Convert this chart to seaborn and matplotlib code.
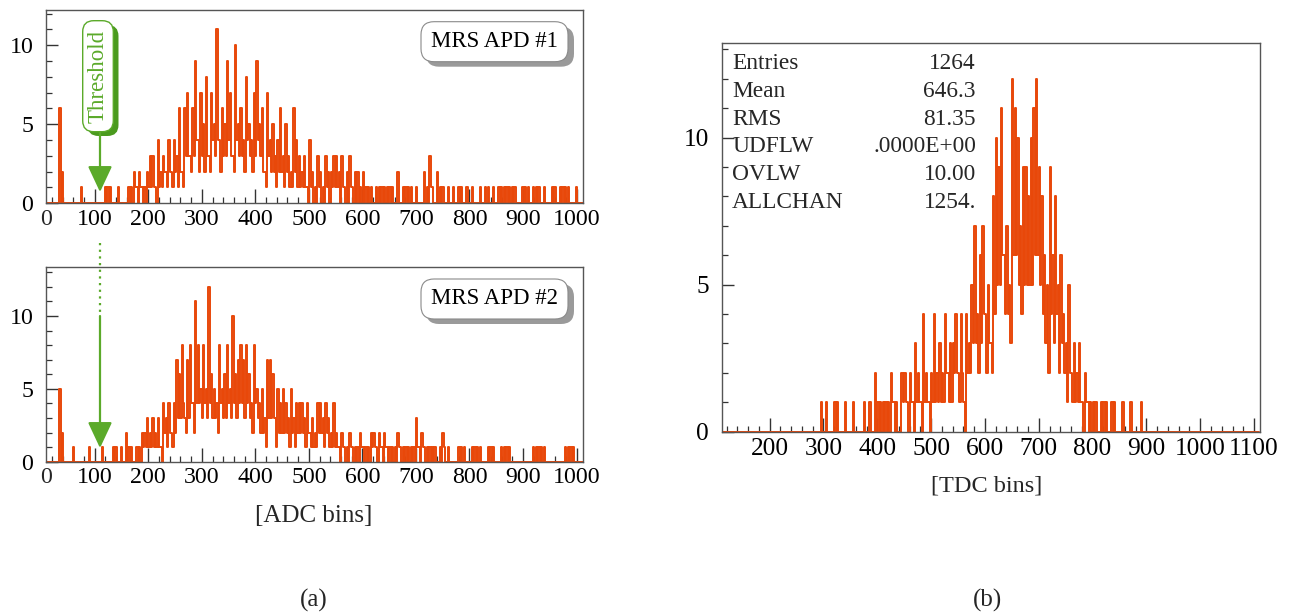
import numpy as np
import pandas as pd
import matplotlib
matplotlib.use("Agg")
import matplotlib.pyplot as plt
import seaborn as sns
from matplotlib.patches import FancyBboxPatch, FancyArrowPatch
from matplotlib.lines import Line2D
from matplotlib.ticker import FixedLocator, MultipleLocator

# ------------------------------------------------------------------ data
# Each coarse bin holds the peak count and the trough count read from the
# densely fluctuating 1-channel histograms (drawn as two half-bins).
adc_bin_start = 9.0
adc_bin_width = 4.97
apd1_peak = [
    0, 0, 0, 0, 0, 6, 2, 0, 0, 0, 0, 0, 0, 1, 0, 0, 0, 0, 0, 0,
    0, 0, 1, 1, 1, 0, 0, 1, 0, 0, 0, 1, 1, 2, 1, 2, 1, 1, 2, 3,
    3, 1, 4, 2, 3, 2, 4, 2, 4, 3, 6, 2, 6, 7, 3, 6, 9, 4, 7, 5,
    8, 3, 7, 5, 11, 4, 6, 5, 9, 7, 3, 10, 5, 6, 4, 8, 5, 4, 7, 9,
    5, 6, 2, 7, 4, 5, 3, 4, 6, 3, 5, 3, 2, 6, 4, 3, 2, 3, 1, 4,
    2, 1, 3, 2, 1, 3, 2, 2, 3, 3, 2, 3, 1, 2, 3, 1, 2, 2, 1, 2,
    1, 1, 1, 0, 1, 1, 1, 1, 1, 1, 1, 0, 2, 0, 1, 1, 1, 1, 0, 1,
    0, 0, 2, 1, 3, 1, 0, 2, 1, 1, 0, 1, 0, 1, 0, 1, 1, 0, 1, 0,
    1, 0, 0, 1, 0, 1, 1, 0, 1, 0, 1, 1, 1, 1, 1, 1, 1, 0, 0, 1,
    1, 1, 0, 1, 1, 1, 0, 1, 0, 0, 1, 1, 0, 1, 1, 1, 1, 0, 0, 1,
    0, 0,
]
apd1_trough = [
    0, 0, 0, 0, 0, 0, 0, 0, 0, 0, 0, 0, 0, 0, 0, 0, 0, 0, 0, 0,
    0, 0, 0, 0, 0, 0, 0, 0, 0, 0, 0, 0, 0, 1, 0, 1, 0, 0, 1, 1,
    1, 0, 1, 1, 2, 1, 2, 1, 2, 1, 2, 1, 3, 3, 2, 3, 4, 2, 3, 2,
    3, 2, 4, 3, 4, 2, 3, 3, 4, 3, 2, 4, 3, 3, 2, 4, 3, 2, 3, 4,
    3, 2, 1, 3, 2, 2, 1, 2, 2, 1, 2, 1, 1, 2, 1, 1, 1, 1, 0, 1,
    0, 0, 1, 0, 0, 1, 0, 1, 1, 1, 0, 1, 0, 0, 1, 0, 0, 0, 0, 0,
    0, 0, 0, 0, 0, 0, 0, 0, 0, 0, 0, 0, 0, 0, 0, 0, 0, 0, 0, 0,
    0, 0, 0, 0, 1, 0, 0, 0, 0, 0, 0, 0, 0, 0, 0, 0, 0, 0, 0, 0,
    0, 0, 0, 0, 0, 0, 0, 0, 0, 0, 0, 0, 0, 0, 0, 0, 0, 0, 0, 0,
    0, 0, 0, 0, 0, 0, 0, 0, 0, 0, 0, 0, 0, 0, 0, 0, 0, 0, 0, 0,
    0, 0,
]
apd2_peak = [
    0, 0, 0, 0, 0, 5, 2, 0, 0, 0, 1, 0, 0, 0, 0, 0, 1, 0, 0, 0,
    0, 1, 0, 0, 0, 1, 1, 0, 1, 0, 2, 1, 1, 0, 1, 1, 2, 2, 3, 2,
    3, 2, 3, 1, 4, 3, 4, 2, 4, 7, 6, 8, 3, 7, 8, 4, 11, 8, 5, 8,
    5, 12, 6, 5, 4, 8, 5, 6, 8, 5, 10, 6, 7, 8, 7, 8, 6, 4, 8, 5,
    4, 5, 3, 7, 7, 6, 3, 5, 4, 5, 4, 3, 5, 3, 4, 4, 4, 3, 4, 2,
    3, 2, 4, 4, 3, 4, 3, 2, 4, 2, 1, 2, 1, 1, 2, 1, 1, 1, 2, 1,
    1, 1, 2, 2, 1, 2, 1, 2, 1, 1, 1, 1, 2, 1, 1, 1, 1, 1, 1, 3,
    1, 2, 1, 1, 1, 1, 1, 0, 1, 2, 0, 1, 0, 0, 0, 1, 1, 1, 0, 0,
    1, 1, 1, 1, 0, 0, 1, 1, 1, 0, 0, 1, 1, 1, 1, 0, 0, 0, 0, 0,
    0, 0, 0, 1, 1, 1, 1, 1, 0, 0, 0, 0, 0, 0, 0, 1, 1, 1, 1, 0,
    0, 0,
]
apd2_trough = [
    0, 0, 0, 0, 0, 0, 0, 0, 0, 0, 0, 0, 0, 0, 0, 0, 0, 0, 0, 0,
    0, 0, 0, 0, 0, 0, 0, 0, 0, 0, 0, 0, 0, 0, 0, 0, 1, 1, 1, 1,
    1, 1, 1, 0, 2, 1, 2, 1, 2, 3, 3, 4, 2, 3, 4, 2, 4, 4, 3, 4,
    3, 4, 3, 3, 2, 4, 3, 3, 4, 3, 4, 3, 4, 4, 3, 4, 3, 2, 4, 3,
    2, 2, 1, 3, 3, 3, 1, 2, 2, 2, 2, 1, 2, 1, 2, 2, 2, 1, 2, 1,
    1, 1, 2, 2, 1, 2, 1, 1, 1, 1, 0, 1, 0, 0, 1, 0, 0, 0, 1, 0,
    0, 0, 1, 1, 0, 1, 0, 1, 0, 0, 0, 0, 1, 0, 0, 0, 0, 0, 0, 1,
    0, 1, 0, 0, 0, 0, 0, 0, 0, 1, 0, 0, 0, 0, 0, 0, 0, 0, 0, 0,
    0, 0, 0, 0, 0, 0, 0, 0, 0, 0, 0, 0, 0, 0, 0, 0, 0, 0, 0, 0,
    0, 0, 0, 0, 0, 0, 0, 0, 0, 0, 0, 0, 0, 0, 0, 0, 0, 0, 0, 0,
    0, 0,
]
tdc_bin_start = 110.0
tdc_bin_width = 5.0
tdc_peak = [
    0, 0, 0, 0, 0, 0, 0, 0, 0, 0, 0, 0, 0, 0, 0, 0, 0, 0, 0, 0,
    0, 0, 0, 0, 0, 0, 0, 0, 0, 0, 0, 0, 0, 0, 0, 0, 0, 1, 0, 1,
    0, 0, 1, 1, 0, 0, 1, 0, 0, 1, 0, 0, 0, 1, 0, 1, 0, 2, 1, 1,
    1, 1, 1, 2, 1, 1, 0, 2, 2, 1, 2, 1, 3, 2, 1, 4, 2, 1, 2, 4,
    2, 3, 2, 4, 2, 3, 3, 4, 2, 4, 1, 4, 3, 5, 7, 4, 6, 7, 4, 5,
    3, 8, 10, 9, 11, 6, 7, 5, 12, 11, 10, 7, 9, 9, 8, 10, 11, 12, 9, 8,
    6, 5, 9, 6, 8, 5, 6, 4, 3, 5, 2, 3, 2, 3, 1, 2, 1, 1, 1, 1,
    0, 1, 1, 1, 0, 1, 1, 0, 0, 1, 0, 0, 1, 0, 0, 0, 1, 0, 0, 0,
    0, 0, 0, 0, 0, 0, 0, 0, 0, 0, 0, 0, 0, 0, 0, 0, 0, 0, 0, 0,
    0, 0, 0, 0, 0, 0, 0, 0, 0, 0, 0, 0, 0, 0, 0, 0, 0, 0, 0, 0,
]
tdc_trough = [
    0, 0, 0, 0, 0, 0, 0, 0, 0, 0, 0, 0, 0, 0, 0, 0, 0, 0, 0, 0,
    0, 0, 0, 0, 0, 0, 0, 0, 0, 0, 0, 0, 0, 0, 0, 0, 0, 0, 0, 0,
    0, 0, 0, 0, 0, 0, 0, 0, 0, 0, 0, 0, 0, 0, 0, 0, 0, 0, 0, 0,
    0, 0, 0, 1, 0, 0, 0, 1, 1, 0, 1, 0, 1, 1, 0, 1, 1, 0, 1, 1,
    1, 1, 1, 2, 1, 1, 2, 2, 1, 2, 0, 2, 2, 3, 3, 2, 3, 4, 2, 3,
    2, 4, 5, 5, 6, 4, 4, 3, 6, 6, 5, 4, 5, 5, 5, 5, 6, 6, 5, 4,
    3, 2, 4, 3, 4, 2, 3, 2, 1, 2, 1, 1, 1, 1, 0, 1, 0, 0, 0, 0,
    0, 0, 0, 0, 0, 0, 0, 0, 0, 0, 0, 0, 0, 0, 0, 0, 0, 0, 0, 0,
    0, 0, 0, 0, 0, 0, 0, 0, 0, 0, 0, 0, 0, 0, 0, 0, 0, 0, 0, 0,
    0, 0, 0, 0, 0, 0, 0, 0, 0, 0, 0, 0, 0, 0, 0, 0, 0, 0, 0, 0,
]
adc_major_ticks = [100, 200, 300, 400, 500, 600, 700, 800, 900, 1000]
tdc_major_ticks = [200, 300, 400, 500, 600, 700, 800, 900, 1000, 1100]
stat_names = ["Entries", "Mean", "RMS", "UDFLW", "OVLW", "ALLCHAN"]
stat_values = ["1264", "646.3", "81.35", ".0000E+00", "10.00", "1254."]
panel_labels = ["MRS APD #1", "MRS APD #2"]

# ------------------------------------------------------------------ style
ORANGE = "#E8480A"
GREEN = "#5BAA2A"
GREEN_DARK = "#4A9A1E"
SPINE = "#555555"

sns.set_theme(style="white")
plt.rcParams["font.family"] = ["Liberation Serif", "DejaVu Serif"]

W, H = 1292, 614
fig = plt.figure(figsize=(W / 100, H / 100), dpi=100)


def ax_px(l, t, r, b):
    return fig.add_axes([l / W, 1 - b / H, (r - l) / W, (b - t) / H])


def draw_hist(ax, peak, trough, start, width):
    # interleave peak/trough into half-width channels
    fine = np.column_stack([np.asarray(peak, float), np.asarray(trough, float)]).ravel()
    half = width / 2
    n = len(fine)
    centers = start + half * (np.arange(n) + 0.5)
    df = pd.DataFrame({"x": centers, "w": fine})
    sns.histplot(data=df, x="x", weights="w", binwidth=half,
                 binrange=(start, start + half * n), element="step",
                 fill=False, color=ORANGE, linewidth=1.4, ax=ax)
    ax.set_xlabel("")
    ax.set_ylabel("")


def style_axes(ax, xpad, lsize):
    for s in ax.spines.values():
        s.set_color(SPINE)
        s.set_linewidth(1.0)
    ax.tick_params(axis="both", which="both", direction="in", colors="#333333",
                   labelcolor="black", labelsize=lsize, top=False, right=False,
                   bottom=True, left=True)
    ax.tick_params(axis="x", which="major", length=10, width=1.0, pad=xpad)
    ax.tick_params(axis="x", which="minor", length=4.5, width=0.9)
    ax.tick_params(axis="y", which="major", length=8.5, width=1.0, pad=9)
    ax.tick_params(axis="y", which="minor", length=4, width=0.9)


# ---- panel (a) top / bottom
ax1 = ax_px(46, 10, 583, 203.3)
ax2 = ax_px(46, 267, 583, 461.7)
for ax, pk, tr, ytop in [(ax1, apd1_peak, apd1_trough, 12.23),
                         (ax2, apd2_peak, apd2_trough, 13.36)]:
    draw_hist(ax, pk, tr, adc_bin_start, adc_bin_width)
    ax.set_xlim(9, 1012)
    ax.set_ylim(0, ytop)
    ax.xaxis.set_major_locator(FixedLocator(adc_major_ticks))
    ax.xaxis.set_minor_locator(MultipleLocator(20))
    ax.yaxis.set_major_locator(FixedLocator([0, 5, 10]))
    ax.yaxis.set_minor_locator(MultipleLocator(1))
    style_axes(ax, 3.8, 17.2)
    ax.annotate("0", xy=(0, 0), xycoords="axes fraction", xytext=(0, -3.8),
                textcoords="offset points", ha="center", va="top", fontsize=17.2)

# ---- panel (b)
ax3 = ax_px(721.7, 42.7, 1260, 431.7)
draw_hist(ax3, tdc_peak, tdc_trough, tdc_bin_start, tdc_bin_width)
ax3.set_xlim(111, 1111)
ax3.set_ylim(0, 13.23)
ax3.xaxis.set_major_locator(FixedLocator(tdc_major_ticks))
ax3.xaxis.set_minor_locator(MultipleLocator(20))
ax3.yaxis.set_major_locator(FixedLocator([0, 5, 10]))
ax3.yaxis.set_minor_locator(MultipleLocator(1))
style_axes(ax3, 4.4, 18.3)


# ------------------------------------------------------------------ annotations
def fx(x):
    return x / W


def fy(y):
    return 1 - y / H


def rbox(x0, y0, x1, y1, r, fc, ec, lw):
    p = FancyBboxPatch((x0 / 100, (H - y1) / 100), (x1 - x0) / 100, (y1 - y0) / 100,
                       boxstyle=f"round,pad=0,rounding_size={r / 100}",
                       transform=fig.dpi_scale_trans, fc=fc, ec=ec, lw=lw)
    fig.add_artist(p)


# MRS APD labels with shadow
for (y0, y1), label in zip([(21.7, 61.7), (279, 319)], panel_labels):
    rbox(426, y0 + 5, 574, y1 + 5, 13, "#9a9a9a", "none", 0)
    rbox(421, y0, 568, y1, 13, "white", "#8a8a8a", 0.8)
    fig.text(fx(494.5), fy((y0 + y1) / 2), label, ha="center", va="center",
             fontsize=16.5, color="black")

# Threshold box with shadow
rbox(87.5, 25, 118.5, 136, 11, GREEN_DARK, "none", 0)
rbox(82.7, 20.7, 113.3, 131.7, 11, "white", GREEN, 1.0)
fig.text(fx(98), fy(76), "Threshold", rotation=90, ha="center", va="center",
         color=GREEN, fontsize=16.5)

arrow_style = "-|>,head_length=1.6,head_width=0.75"
a1 = FancyArrowPatch(posA=(1.0, (H - 132) / 100), posB=(1.0, (H - 192) / 100),
                     transform=fig.dpi_scale_trans, arrowstyle=arrow_style,
                     mutation_scale=10, color=GREEN, lw=1.6, shrinkA=0, shrinkB=0)
fig.add_artist(a1)
fig.add_artist(Line2D([1.0, 1.0], [(H - 243) / 100, (H - 316) / 100],
                      transform=fig.dpi_scale_trans, ls=(0, (1, 2)), lw=1.6,
                      color=GREEN))
a2 = FancyArrowPatch(posA=(1.0, (H - 316) / 100), posB=(1.0, (H - 448) / 100),
                     transform=fig.dpi_scale_trans, arrowstyle=arrow_style,
                     mutation_scale=10, color=GREEN, lw=1.6, shrinkA=0, shrinkB=0)
fig.add_artist(a2)

# statistics box text in panel (b)
baselines = [69.3, 97.0, 124.7, 152.3, 180.0, 207.7]
for name, val, yb in zip(stat_names, stat_values, baselines):
    fig.text(fx(732), fy(yb), name, ha="left", va="baseline", fontsize=16.8)
    fig.text(fx(976), fy(yb), val, ha="right", va="baseline", fontsize=16.8)

# axis titles and panel captions
fig.text(fx(314), fy(521.7), "[ADC bins]", ha="center", va="baseline", fontsize=18)
fig.text(fx(987), fy(491.5), "[TDC bins]", ha="center", va="baseline", fontsize=17.5)
fig.text(fx(314), fy(600), "(a)", ha="center", va="center", fontsize=18)
fig.text(fx(988), fy(600), "(b)", ha="center", va="center", fontsize=18)

fig.savefig("out.png", dpi=100)
